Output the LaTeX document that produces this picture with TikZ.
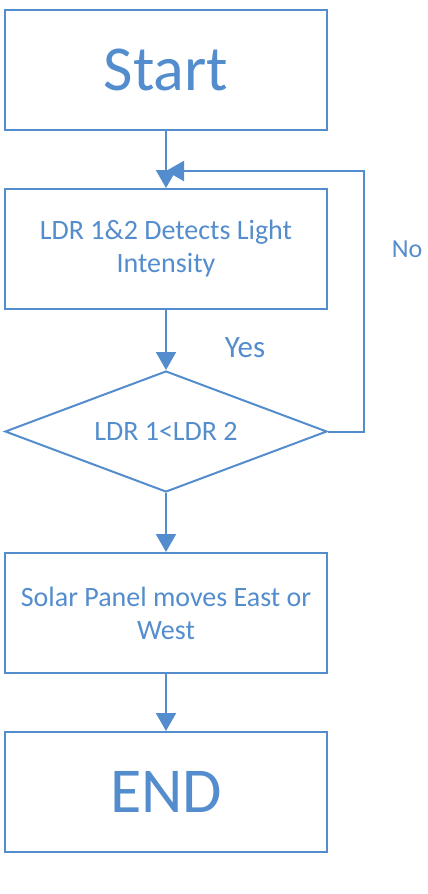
\documentclass[tikz,border=0pt]{standalone}
\usepackage{fontspec}
\setmainfont{Carlito}
\usetikzlibrary{arrows.meta, shapes.geometric}
\definecolor{FlowBlue}{RGB}{84,141,205}

\begin{document}
\begin{tikzpicture}[x=0.5pt, y=-0.5pt, >={Triangle[length=9pt, width=10pt]}, line width=1pt,
    box/.style={draw=FlowBlue, fill=white, text=FlowBlue, minimum width=161pt, minimum height=60pt, inner sep=0pt, align=center},
    decision/.style={draw=FlowBlue, fill=white, text=FlowBlue, diamond, aspect=2.66, minimum width=161pt, minimum height=60.5pt, inner sep=0pt},
    flow/.style={draw=FlowBlue, ->}]
    \def\cx{166}
    \useasboundingbox (0,0) rectangle (428,894);
    % Steps
    \node[box, font=\fontsize{32}{36}\selectfont] (start) at (\cx, 69.5) {Start};
    \node[box, font=\fontsize{14}{16.5}\selectfont] (detect) at (\cx, 249) {LDR 1\&2 Detects Light\\Intensity};
    \node[decision, font=\fontsize{14}{16.5}\selectfont] (compare) at (\cx, 431.5) {LDR 1<LDR 2};
    \node[box, font=\fontsize{14}{16.5}\selectfont] (move) at (\cx, 613) {Solar Panel moves East or\\West};
    \node[box, font=\fontsize{32}{36}\selectfont] (finish) at (\cx, 792) {END};
    % Branch labels
    \node[text=FlowBlue, font=\fontsize{15.5}{18}\selectfont] (yes) at (245, 348) {Yes};
    \node[text=FlowBlue, font=\fontsize{13}{16}\selectfont] (no) at (407, 249) {No};
    % Connectors
    \coordinate (merge) at (\cx, 171);
    \draw[flow] (start) -- (detect);
    \draw[flow] (detect) -- (compare);
    \draw[flow] (compare) -- (move);
    \draw[flow] (move) -- (finish);
    \draw[flow] (compare.east) -- ++(36,0) |- (merge);
\end{tikzpicture}
\end{document}
